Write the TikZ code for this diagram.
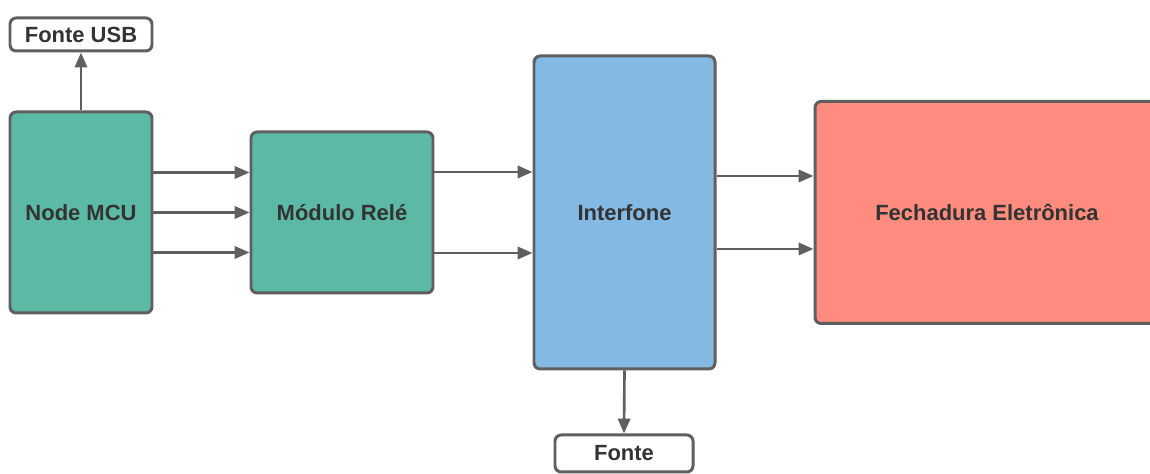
\documentclass[tikz,border=0pt]{standalone}
\usepackage{fontspec}
\setmainfont{Liberation Sans}
\usepackage{xcolor}
\usetikzlibrary{arrows.meta}
\definecolor{bordergray}{HTML}{5F5F5F}
\definecolor{textgray}{HTML}{333333}
\definecolor{tealfill}{HTML}{5CB9A5}
\definecolor{bluefill}{HTML}{83B9E3}
\definecolor{salmonfill}{HTML}{FF8C7E}

\begin{document}
\begin{tikzpicture}[
    block/.style={draw=bordergray,line width=1.7pt,rounded corners=3.5pt,
      font=\fontsize{12.5}{15}\selectfont\bfseries,text=textgray,align=center,inner sep=0pt},
    arr/.style={draw=bordergray,line width=1.5pt,-{Triangle[length=8.5pt,width=7pt]}}
  ]
  \useasboundingbox (0,0) rectangle (23,9.48);
  \clip (0,0) rectangle (23,9.48);
  \node[block,fill=white,minimum width=2.84cm,minimum height=0.66cm] (usb) at (1.62,8.79) {Fonte USB};
  \node[block,fill=tealfill,minimum width=2.84cm,minimum height=4.02cm] (mcu) at (1.62,5.23) {Node MCU};
  \node[block,fill=tealfill,minimum width=3.64cm,minimum height=3.22cm] (rele) at (6.84,5.23) {Módulo Relé};
  \node[block,fill=bluefill,minimum width=3.62cm,minimum height=6.26cm] (inter) at (12.49,5.23) {Interfone};
  \node[block,fill=salmonfill,minimum width=6.88cm,minimum height=4.44cm] (fech) at (19.74,5.23) {Fechadura Eletrônica};
  \node[block,fill=white,minimum width=2.76cm,minimum height=0.74cm] (fonte) at (12.48,0.41) {Fonte};

  \draw[arr] (mcu.north) -- (usb.south);
  \foreach \dy in {0.8,0,-0.8}
    \draw[arr] ([yshift=\dy cm]mcu.east) -- ([yshift=\dy cm]rele.west);
  \foreach \dy in {0.81,-0.81}
    \draw[arr] ([yshift=\dy cm]rele.east) -- ([yshift=\dy cm]inter.west);
  \foreach \dy in {0.73,-0.73}
    \draw[arr] ([yshift=\dy cm]inter.east) -- ([yshift=\dy cm]fech.west);
  \draw[arr] (inter.south) -- (fonte.north);
\end{tikzpicture}
\end{document}
